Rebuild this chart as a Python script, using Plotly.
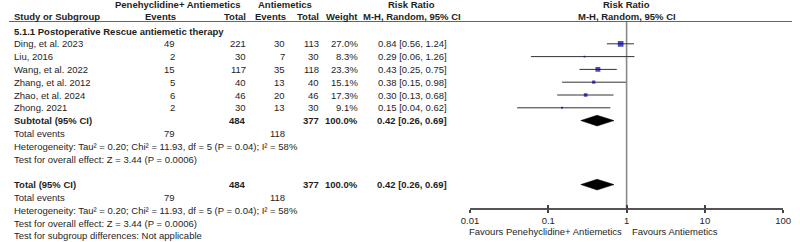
import plotly.graph_objects as go

# ---------------- data ----------------
studies = ["Ding, et al. 2023", "Liu, 2016", "Wang, et al. 2022",
           "Zhang, et al. 2012", "Zhao, et al. 2024", "Zhong. 2021"]
exp_events = [49, 2, 15, 5, 6, 2]
exp_total = [221, 30, 117, 40, 46, 30]
ctl_events = [30, 7, 35, 13, 20, 13]
ctl_total = [113, 30, 118, 40, 46, 30]
weights = [27.0, 8.3, 23.3, 15.1, 17.3, 9.1]
rr = [0.84, 0.29, 0.43, 0.38, 0.30, 0.15]
rr_lo = [0.56, 0.06, 0.25, 0.15, 0.13, 0.04]
rr_hi = [1.24, 1.26, 0.75, 0.98, 0.68, 0.62]
pooled_rr = [0.42]
pooled_lo = [0.26]
pooled_hi = [0.69]
total_weight = 100.0
sum_exp_total = 484
sum_ctl_total = 377
sum_exp_events = 79
sum_ctl_events = 118
section_title = "5.1.1 Postoperative Rescue antiemetic therapy"
het_text = "Heterogeneity: Tau² = 0.20; Chi² = 11.93, df = 5 (P = 0.04); I² = 58%"
overall_text = "Test for overall effect: Z = 3.44 (P = 0.0006)"
subgroup_text = "Test for subgroup differences: Not applicable"
tick_vals = [0.01, 0.1, 1, 10, 100]
tick_text = ["0.01", "0.1", "1", "10", "100"]
favours_left = "Favours Penehyclidine+ Antiemetics"
favours_right = "Favours Antiemetics"

# ---------------- layout constants ----------------
W, H = 800, 242
FONT = "Liberation Sans, Arial, sans-serif"
TXT = "#1e1e1e"
FS = 9.5
ROW0_PX, PITCH = 31.0, 12.8          # row 0 centre, row pitch (px)
Y_TOP = -ROW0_PX / PITCH
Y_BOT = (H - ROW0_PX) / PITCH
AXIS_PX = 209
AXIS_ROW = (AXIS_PX - ROW0_PX) / PITCH

# column right edges (px)
C_EE, C_ET, C_CE, C_CT, C_W, C_RR = 171, 243, 283, 318, 358, 449
C_LEFT = 4

annotations = []


def txt(s, px, row, anchor="left", bold=False, color=TXT):
    annotations.append(dict(
        text=f"<b>{s}</b>" if bold else s, x=px / W, xref="paper", y=row,
        yref="y", xanchor=anchor, yanchor="middle", showarrow=False,
        borderpad=0, font=dict(size=FS, color=color, family=FONT)))


def rr_str(e, l, h):
    return f"{e:.2f} [{l:.2f}, {h:.2f}]"


# headers
HR1, HR2 = -2.05, -1.15
txt("Penehyclidine+ Antiemetics", 173, HR1, "center", True)
txt("Antiemetics", 282, HR1, "center", True)
txt("Risk Ratio", 411, HR1, "center", True)
txt("Risk Ratio", 631, HR1, "center", True)
txt("Study or Subgroup", C_LEFT, HR2, "left", True)
txt("Events", C_EE + 1, HR2, "right", True)
txt("Total", C_ET, HR2, "right", True)
txt("Events", C_CE + 1, HR2, "right", True)
txt("Total", C_CT, HR2, "right", True)
txt("Weight", C_W, HR2, "right", True)
txt("M-H, Random, 95% CI", 412, HR2, "center", True)
txt("M-H, Random, 95% CI", 631, HR2, "center", True)

txt(section_title, C_LEFT, 0, "left", True)

study_rows = list(range(1, len(studies) + 1))
for i, r in enumerate(study_rows):
    txt(studies[i], C_LEFT, r)
    txt(str(exp_events[i]), C_EE, r, "right")
    txt(str(exp_total[i]), C_ET, r, "right")
    txt(str(ctl_events[i]), C_CE, r, "right")
    txt(str(ctl_total[i]), C_CT, r, "right")
    txt(f"{weights[i]:.1f}%", C_W, r, "right")
    txt(rr_str(rr[i], rr_lo[i], rr_hi[i]), C_RR, r, "right")

summary_rows = [7, 12]
summary_labels = ["Subtotal (95% CI)", "Total (95% CI)"]
for lab, r in zip(summary_labels, summary_rows):
    txt(lab, C_LEFT, r, "left", True)
    txt(str(sum_exp_total), C_ET, r, "right", True)
    txt(str(sum_ctl_total), C_CT, r, "right", True)
    txt(f"{total_weight:.1f}%", C_W, r, "right", True)
    txt(rr_str(pooled_rr[0], pooled_lo[0], pooled_hi[0]), C_RR, r, "right", True)
    txt("Total events", C_LEFT, r + 1)
    txt(str(sum_exp_events), C_EE, r + 1, "right")
    txt(str(sum_ctl_events), C_CE, r + 1, "right")
    txt(het_text, C_LEFT, r + 2)
    txt(overall_text, C_LEFT, r + 3)
txt(subgroup_text, C_LEFT, 16)

FAV_ROW = (231 - ROW0_PX) / PITCH
txt(favours_left, 627, FAV_ROW, "right")
txt(favours_right, 635, FAV_ROW, "left")

# ---------------- traces ----------------
fig = go.Figure()

fig.add_trace(go.Scatter(
    x=rr, y=study_rows, mode="markers",
    marker=dict(symbol="square", size=[w * 0.21 for w in weights],
                color="#0000a0", line=dict(width=0)),
    error_x=dict(type="data", symmetric=False,
                 array=[h - e for h, e in zip(rr_hi, rr)],
                 arrayminus=[e - l for e, l in zip(rr, rr_lo)],
                 color="#333333", thickness=1, width=0),
    hoverinfo="skip", showlegend=False))

HALF = 0.42
for r in summary_rows:
    fig.add_trace(go.Scatter(
        x=[pooled_lo[0], pooled_rr[0], pooled_hi[0], pooled_rr[0], pooled_lo[0]],
        y=[r, r - HALF, r, r + HALF, r],
        mode="lines", fill="toself", fillcolor="#000000",
        line=dict(color="#000000", width=0.5),
        hoverinfo="skip", showlegend=False, xaxis="x2"))

RULE_ROW = (21.5 - ROW0_PX) / PITCH
shapes = [
    dict(type="line", xref="x", yref="y", x0=1, x1=1, y0=RULE_ROW, y1=AXIS_ROW,
         line=dict(color="#8a8a8a", width=1.6), layer="below"),
    dict(type="line", xref="paper", yref="y", x0=0, x1=1, y0=RULE_ROW, y1=RULE_ROW,
         line=dict(color="#666666", width=1)),
]

dom = [471 / W, 791 / W]
pos = 1 - AXIS_PX / H
axis_common = dict(type="log", range=[-2, 2], domain=dom, anchor="free",
                   position=pos, showgrid=False, zeroline=False,
                   tickvals=tick_vals, fixedrange=True)

fig.update_layout(
    width=W, height=H, margin=dict(l=0, r=0, t=0, b=0),
    paper_bgcolor="white", plot_bgcolor="white",
    xaxis=dict(**axis_common, showline=True, linecolor="#555555", linewidth=1.5,
               ticks="outside", ticklen=3, tickwidth=1.5, tickcolor="#444444",
               ticktext=tick_text,
               tickfont=dict(size=FS, color=TXT, family=FONT)),
    xaxis2=dict(**axis_common, overlaying="x", showline=False,
                ticks="inside", ticklen=4, tickwidth=1.5, tickcolor="#444444",
                showticklabels=False),
    yaxis=dict(range=[Y_BOT, Y_TOP], domain=[0, 1], visible=False,
               showgrid=False, zeroline=False, fixedrange=True),
    annotations=annotations, shapes=shapes, showlegend=False,
)

fig.write_html("out.html", config={"displayModeBar": False},
               post_script="document.body.style.margin='0';")
